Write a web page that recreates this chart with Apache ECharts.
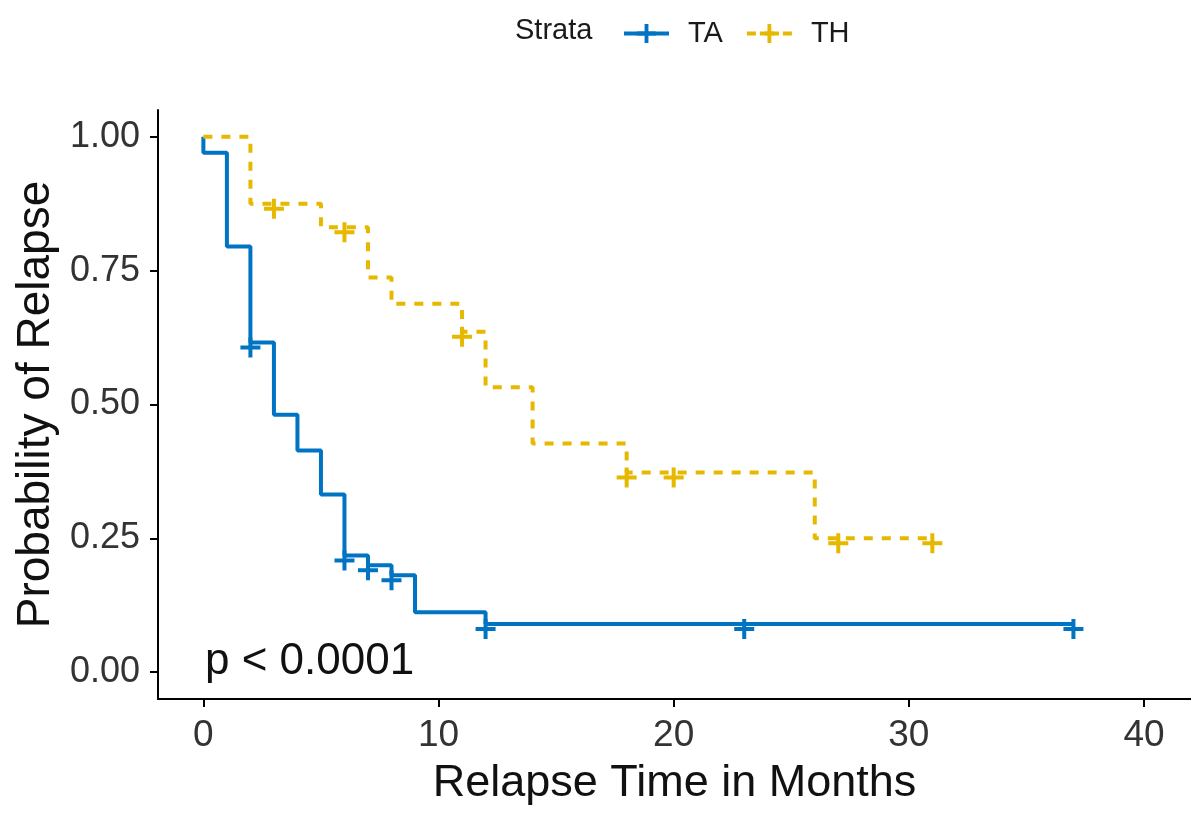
<!DOCTYPE html>
<html>
<head>
<meta charset="utf-8">
<script src="https://cdn.jsdelivr.net/npm/echarts@6/dist/echarts.min.js"></script>
<style>
	html, body { margin: 0; padding: 0; background: #fff; }
	#chart { width: 1191px; height: 814px; }
</style>
</head>
<body>
<div id="chart"></div>
<script>
// Kaplan-Meier estimates (months, survival)
const taTime   = [0, 0, 1, 2, 3, 4, 5, 6, 7, 8, 9, 12, 23, 37];
const taSurv   = [1, 0.97, 0.795, 0.616, 0.481, 0.414, 0.332, 0.218, 0.2, 0.181, 0.112, 0.09, 0.09, 0.09];
const taCensor = [0, 0, 0, 1, 0, 0, 0, 1, 1, 1, 0, 1, 1, 1];

const thTime   = [0, 2, 3, 5, 6, 7, 8, 11, 12, 14, 18, 20, 26, 27, 31];
const thSurv   = [1, 0.875, 0.875, 0.831, 0.831, 0.737, 0.688, 0.636, 0.532, 0.427, 0.373, 0.373, 0.25, 0.25, 0.25];
const thCensor = [0, 0, 1, 0, 1, 0, 0, 1, 0, 0, 1, 1, 0, 1, 1];

const xTicks = [0, 10, 20, 30, 40];
const yTicks = [0, 0.25, 0.5, 0.75, 1];

const strataNames = ['TA', 'TH'];
const strataColors = ['#0073C2', '#E7B800'];

// "+" censor mark
const plusPath = 'path://M0,8H20V12H0Z M8,0H12V20H8Z';

var myChart = echarts.init(document.getElementById('chart'));

function buildData(time, surv, censor) {
	let data = [];
	for (var i = 0; i < time.length; i++) {
		if (censor[i]) {
			data.push({ value: [time[i], surv[i]], symbolOffset: [0, 5] });
		} else {
			data.push({ value: [time[i], surv[i]], symbol: 'none' });
		}
	}
	return data;
}

const fontName = '"Liberation Sans", Arial, sans-serif';

var option = {
	animation: false,
	backgroundColor: '#fff',
	title: {
		text: 'Strata',
		left: 510,
		top: 11,
		textStyle: { fontFamily: fontName, fontSize: 29, fontWeight: 'normal', color: '#1a1a1a' }
	},
	legend: {
		data: strataNames,
		left: 617,
		top: 14,
		itemWidth: 45,
		itemHeight: 24,
		itemGap: 22,
		lineStyle: { width: 4 },
		textStyle: { fontFamily: fontName, fontSize: 29, color: '#1a1a1a', padding: [0, 0, 0, 14] }
	},
	grid: {
		left: 158,
		top: 110,
		right: -16,
		bottom: 115
	},
	xAxis: {
		type: 'value',
		min: -1.93,
		max: 42,
		splitLine: { show: false },
		axisLine: { onZero: false, lineStyle: { color: '#000', width: 2 } },
		axisTick: { show: true, customValues: xTicks, length: 8, lineStyle: { color: '#000', width: 2 } },
		axisLabel: {
			customValues: xTicks,
			margin: 18,
			fontFamily: fontName,
			fontSize: 37,
			color: '#333'
		},
		name: 'Relapse Time in Months',
		nameLocation: 'middle',
		nameGap: 62,
		nameTextStyle: { fontFamily: fontName, fontSize: 45, color: '#111' }
	},
	yAxis: {
		type: 'value',
		min: -0.05,
		max: 1.05,
		splitLine: { show: false },
		axisLine: { show: true, onZero: false, lineStyle: { color: '#000', width: 2 } },
		axisTick: { show: true, customValues: yTicks, length: 8, lineStyle: { color: '#000', width: 2 } },
		axisLabel: {
			customValues: yTicks,
			margin: 18,
			fontFamily: fontName,
			fontSize: 36,
			color: '#333',
			formatter: (v) => v.toFixed(2)
		},
		name: 'Probability of Relapse',
		nameLocation: 'middle',
		nameGap: 92,
		nameTextStyle: { fontFamily: fontName, fontSize: 46, color: '#111' }
	},
	series: [
		{
			name: 'TA',
			type: 'line',
			step: 'end',
			symbol: plusPath,
			symbolSize: 20,
			showSymbol: true,
			color: strataColors[0],
			lineStyle: { width: 4, type: 'solid' },
			itemStyle: { color: strataColors[0] },
			data: buildData(taTime, taSurv, taCensor)
		},
		{
			name: 'TH',
			type: 'line',
			step: 'end',
			symbol: plusPath,
			symbolSize: 20,
			showSymbol: true,
			color: strataColors[1],
			lineStyle: { width: 4, type: [9, 9] },
			itemStyle: { color: strataColors[1] },
			data: buildData(thTime, thSurv, thCensor)
		}
	],
	graphic: [
		{
			type: 'text',
			left: 205,
			top: 640,
			style: {
				text: 'p < 0.0001',
				fontFamily: fontName,
				fontSize: 44,
				fill: '#111'
			}
		}
	]
};

myChart.setOption(option);
</script>
</body>
</html>
